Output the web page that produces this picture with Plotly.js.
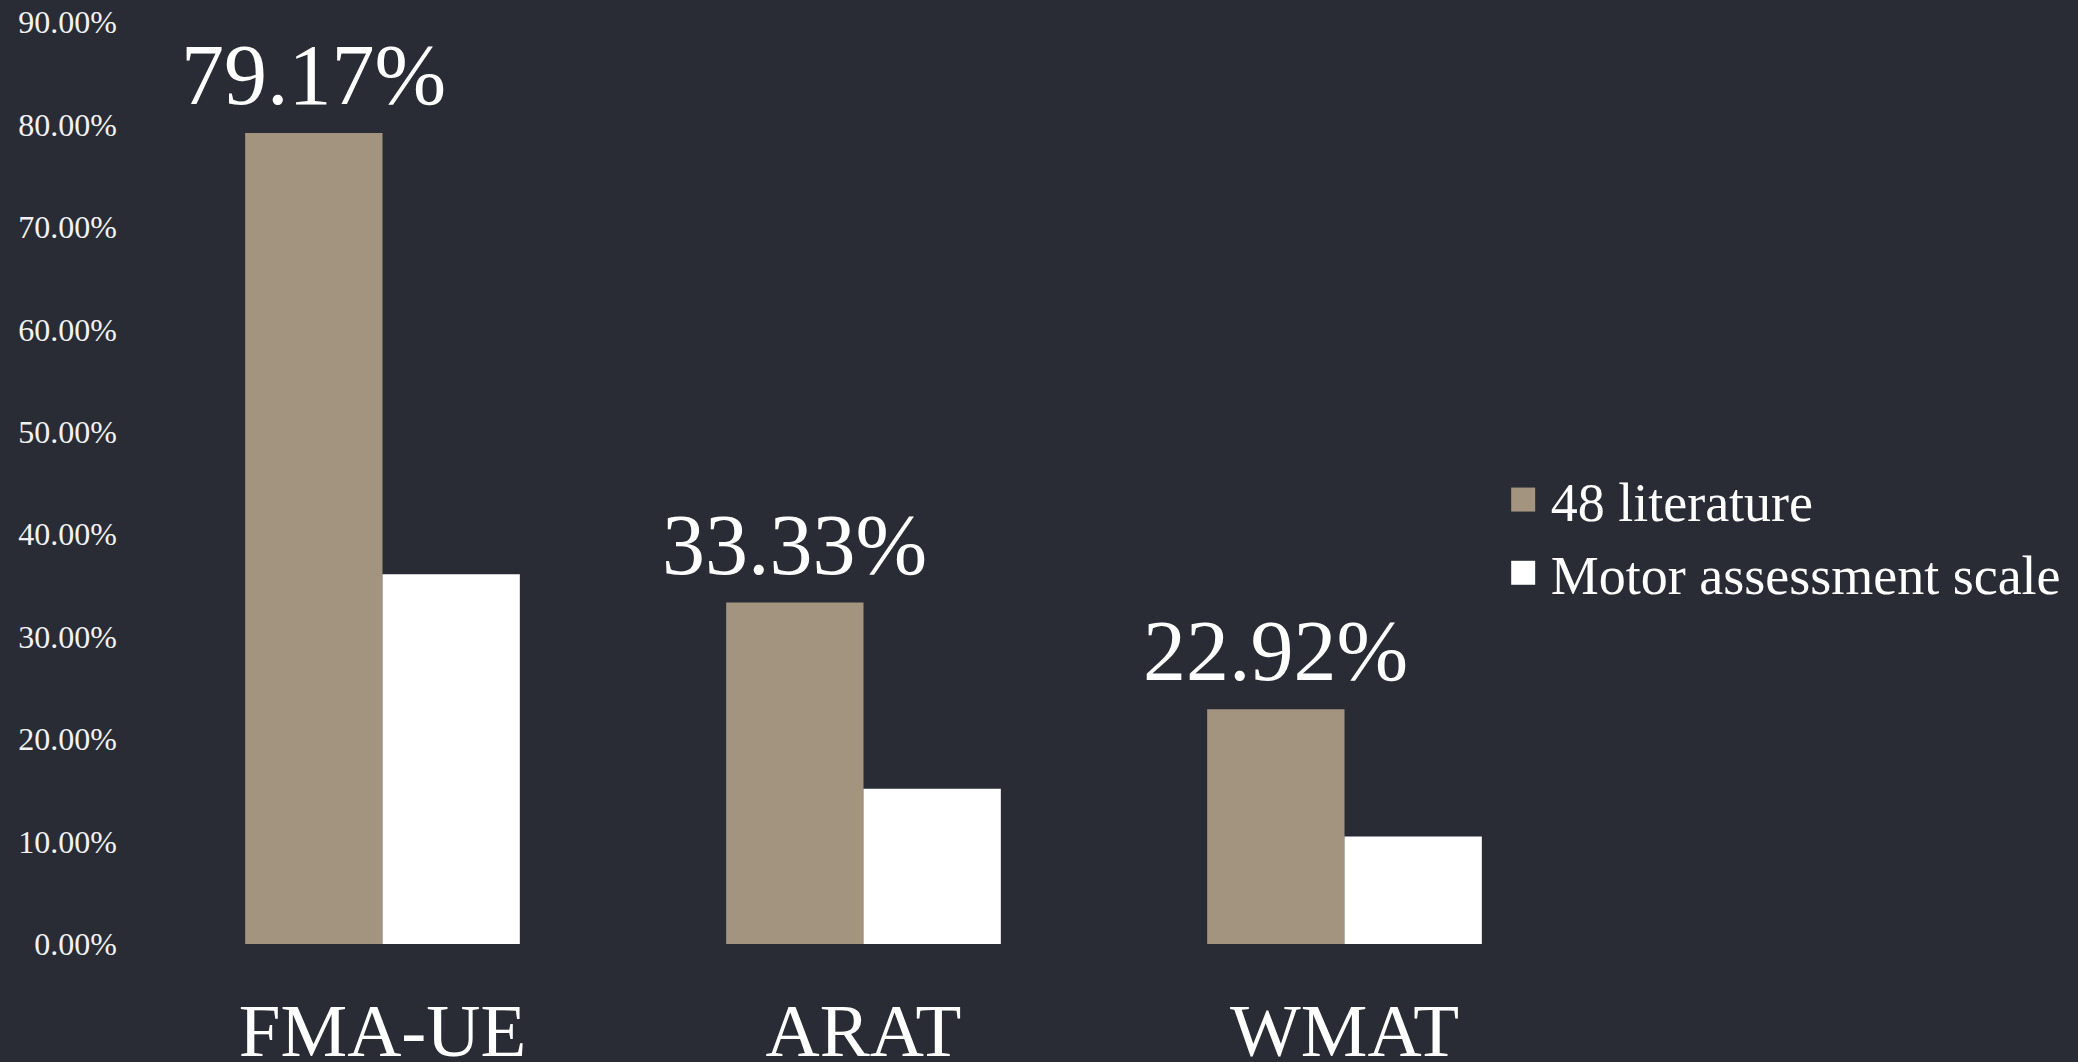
<!DOCTYPE html>
<html>
<head>
<meta charset="utf-8">
<script src="https://cdn.plot.ly/plotly-3.0.1.min.js"></script>
<style>
  html, body { margin: 0; padding: 0; background: #292c34; }
  #chart { width: 2078px; height: 1062px; }
</style>
</head>
<body>
<div id="chart"></div>
<script>
// ---- data ----
const categories = ["FMA-UE", "ARAT", "WMAT"];
const literatureValues = [79.17, 33.33, 22.92];      // 48 literature (%)
const motorScaleValues = [36.1, 15.15, 10.5];        // Motor assessment scale (%)
const seriesNames = ["48 literature", "Motor assessment scale"];
const yTickValues = [0, 10, 20, 30, 40, 50, 60, 70, 80, 90];

const bg = "#292c34";
const brown = "#a39480";
const serif = "Liberation Serif, Times New Roman, serif";

const traces = [
  {
    type: "bar",
    name: seriesNames[0],
    x: categories,
    y: literatureValues,
    marker: { color: brown },
    hoverinfo: "skip"
  },
  {
    type: "bar",
    name: seriesNames[1],
    x: categories,
    y: motorScaleValues,
    marker: { color: "#ffffff" },
    hoverinfo: "skip"
  }
];

// value labels above the first series' bars (offset left to that bar's centre)
const valueLabels = categories.map(function (c, i) {
  return {
    x: c, y: literatureValues[i], xref: "x", yref: "y",
    text: literatureValues[i].toFixed(2) + "%",
    showarrow: false,
    xanchor: "center", yanchor: "bottom",
    xshift: -68.8, yshift: 8,
    font: { family: serif, size: 86, color: "#ffffff" }
  };
});

const layout = {
  width: 2078,
  height: 1062,
  paper_bgcolor: bg,
  plot_bgcolor: bg,
  margin: { l: 142, r: 491, t: 22, b: 118 },
  barmode: "group",
  bargap: 0.429,
  bargroupgap: 0,
  font: { family: serif, color: "#ffffff" },
  showlegend: true,
  legend: {
    x: 0.9485, xanchor: "left",
    y: 0.442, yanchor: "middle",
    bgcolor: "rgba(0,0,0,0)",
    font: { family: serif, size: 54, color: "#ffffff" },
    tracegroupgap: 0
  },
  annotations: valueLabels,
  xaxis: {
    type: "category",
    showgrid: false,
    zeroline: false,
    showline: false,
    ticks: "",
    tickfont: { family: serif, size: 75, color: "#ffffff" },
    ticklabelstandoff: 36
  },
  yaxis: {
    range: [0, 90],
    tickmode: "array",
    tickvals: yTickValues,
    ticktext: yTickValues.map(function (v) { return v.toFixed(2) + "%"; }),
    showgrid: false,
    zeroline: false,
    showline: false,
    ticks: "",
    tickfont: { family: serif, size: 32, color: "#f2f2f2" },
    ticklabelstandoff: 24
  }
};

Plotly.newPlot("chart", traces, layout, { staticPlot: true, displayModeBar: false }).then(function () {
  // enlarge legend swatches to match the reference's larger squares
  document.querySelectorAll(".legendpoints path").forEach(function (p) {
    const b = p.getBBox();
    const cx = b.x + b.width / 2 - 7.5, cy = b.y + b.height / 2, h = 12;
    p.setAttribute("d", "M" + (cx + h) + "," + (cy + h) + "H" + (cx - h) + "V" + (cy - h) + "H" + (cx + h) + "Z");
  });
  document.querySelectorAll(".legend .scrollbox").forEach(function (s) { s.removeAttribute("clip-path"); });
});
</script>
</body>
</html>
